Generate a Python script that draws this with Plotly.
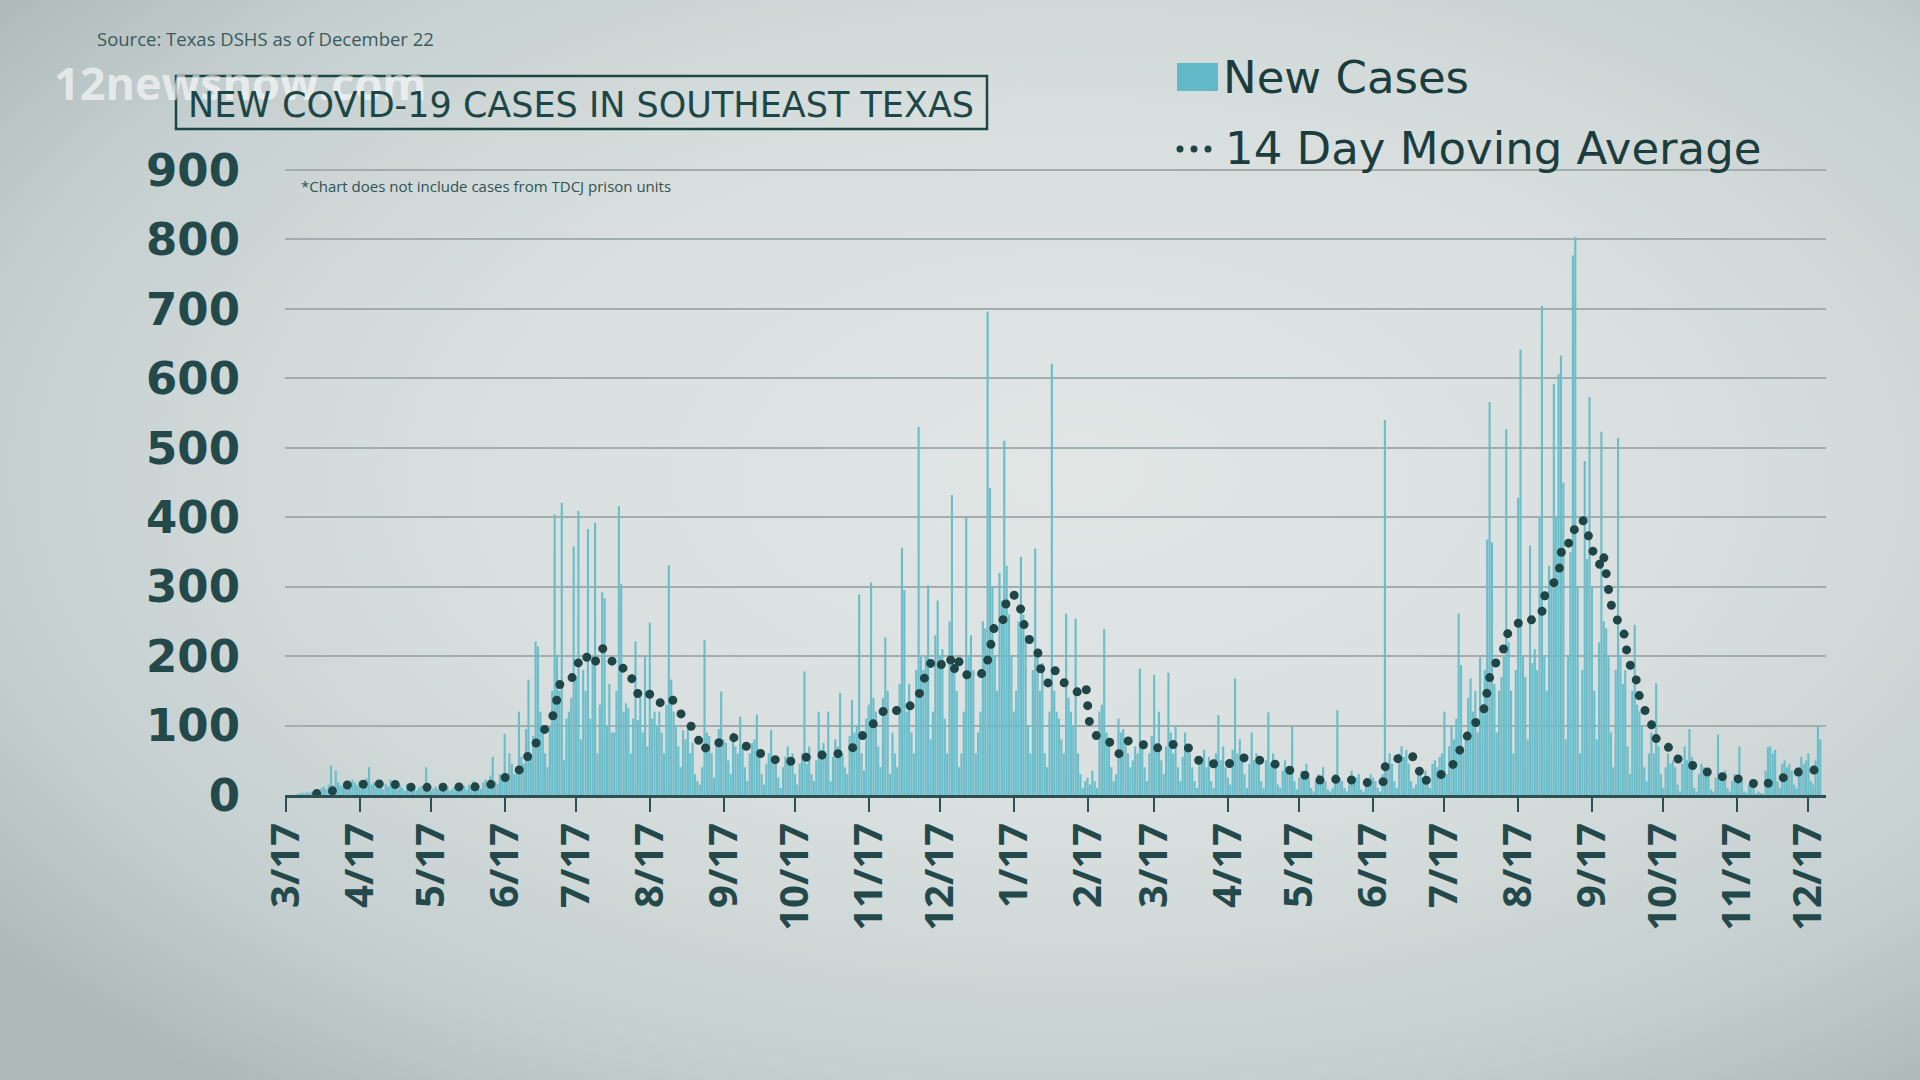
import base64
import pandas as pd
import plotly.graph_objects as go

# ---------------- DATA ----------------
start_date = "2020-03-17"

mar20 = [0, 0, 0, 0, 0, 1, 2, 3, 2, 4, 3, 5, 4, 6, 8]
apr20 = [10, 12, 8, 15, 42, 14, 35, 18, 14, 12, 16, 18, 10, 22, 18, 14, 20, 9, 12, 24,
         40, 15, 18, 10, 14, 20, 8, 16, 12, 22]
may20 = [18, 12, 8, 14, 10, 6, 16, 12, 9, 14, 7, 11, 13, 8, 40, 10, 6, 9, 12, 8,
         14, 7, 10, 11, 6, 9, 12, 8, 10, 7, 13]
jun20 = [8, 15, 12, 20, 10, 14, 9, 18, 22, 15, 28, 55, 20, 16, 30, 25, 88, 30, 60, 45,
         30, 35, 120, 55, 45, 95, 166, 55, 85, 221]
jul20 = [214, 120, 95, 60, 40, 98, 150, 404, 202, 150, 421, 50, 110, 120, 140, 358, 170, 409, 80, 180,
         150, 383, 110, 200, 392, 60, 130, 292, 283, 100, 160]
aug20 = [90, 90, 150, 416, 304, 120, 132, 125, 60, 110, 221, 108, 140, 90, 201, 70, 248, 110, 120, 100,
         120, 90, 60, 130, 331, 166, 120, 100, 70, 40, 93]
sep20 = [80, 95, 60, 75, 30, 20, 15, 40, 223, 90, 85, 60, 25, 70, 95, 149, 80, 75, 50, 30,
         90, 70, 60, 113, 70, 40, 20, 60, 75, 80]
oct20 = [116, 60, 30, 15, 45, 60, 94, 55, 50, 25, 10, 40, 55, 70, 50, 60, 30, 15, 45, 60,
         178, 45, 70, 30, 20, 50, 120, 65, 75, 60, 120]
nov20 = [20, 55, 80, 70, 147, 60, 40, 30, 85, 137, 90, 100, 289, 60, 35, 110, 130, 306, 140, 120,
         70, 40, 140, 227, 150, 30, 90, 60, 40, 160]
dec20 = [356, 295, 120, 160, 90, 60, 180, 530, 200, 180, 200, 302, 80, 120, 230, 280, 200, 210, 110, 60,
         250, 432, 180, 150, 40, 60, 120, 401, 200, 230, 180]
jan21 = [60, 90, 120, 250, 240, 696, 442, 300, 200, 150, 320, 280, 510, 330, 260, 200, 120, 150, 250, 343,
         260, 230, 100, 60, 180, 355, 200, 150, 190, 60, 40]
feb21 = [120, 621, 150, 120, 110, 80, 60, 261, 140, 120, 100, 254, 60, 30, 10, 20, 25, 15, 35, 20,
         10, 120, 130, 239, 90, 70, 40, 20]
mar21 = [30, 110, 90, 95, 80, 60, 40, 50, 70, 60, 182, 75, 40, 20, 60, 85, 173, 65, 120, 50,
         30, 70, 176, 90, 60, 100, 40, 20, 55, 90, 70]
apr21 = [60, 40, 20, 10, 45, 50, 65, 40, 55, 20, 10, 60, 115, 50, 70, 40, 25, 15, 65, 168,
         60, 80, 55, 30, 10, 45, 90, 50, 60, 45]
may21 = [20, 10, 50, 119, 45, 60, 40, 15, 10, 35, 50, 40, 30, 99, 20, 8, 25, 35, 30, 45,
         25, 10, 5, 20, 30, 25, 40, 20, 8, 5, 10]
jun21 = [30, 122, 25, 20, 10, 5, 15, 35, 20, 25, 30, 8, 5, 15, 20, 30, 25, 20, 10, 5,
         30, 540, 40, 60, 45, 20, 10, 60, 70, 55]
jul21 = [65, 45, 20, 10, 15, 30, 40, 25, 35, 15, 10, 45, 50, 40, 55, 60, 120, 30, 70, 100,
         80, 110, 261, 187, 60, 90, 140, 168, 120, 150, 90]
aug21 = [198, 130, 180, 368, 566, 364, 160, 90, 150, 170, 200, 527, 220, 150, 60, 180, 428, 641, 200, 170,
         80, 359, 190, 210, 180, 400, 704, 200, 150, 330, 300]
sep21 = [592, 400, 606, 633, 450, 80, 200, 350, 777, 804, 300, 60, 180, 481, 340, 573, 300, 150, 80, 220,
         523, 250, 240, 200, 90, 40, 180, 514, 200, 160]
oct21 = [180, 70, 30, 150, 245, 130, 120, 100, 40, 20, 60, 90, 60, 161, 70, 30, 10, 40, 60, 45,
         50, 40, 15, 5, 45, 70, 50, 95, 55, 10, 5]
nov21 = [30, 45, 40, 35, 30, 8, 5, 25, 87, 30, 20, 35, 10, 5, 20, 30, 25, 70, 20, 5,
         3, 15, 20, 10, 2, 5, 3, 2, 35, 69]
dec21 = [70, 60, 65, 20, 10, 45, 50, 40, 45, 35, 15, 10, 40, 55, 45, 50, 60, 20, 15, 50,
         100, 80]

new_cases = (mar20 + apr20 + may20 + jun20 + jul20 + aug20 + sep20 + oct20 + nov20 + dec20 +
             jan21 + feb21 + mar21 + apr21 + may21 + jun21 + jul21 + aug21 + sep21 + oct21 +
             nov21 + dec21)

# 14-day moving average (days after 2020-03-17, value)
ma_day = [13, 19.7, 26.3, 32.9, 39.6, 46.4, 53.1, 60.1, 67.1, 73.7, 80.4, 87.3, 93, 98.6, 102.1,
          105.5, 109.1, 112.2, 113.9, 115.3, 119.8, 122, 125.4, 129, 130.4, 132.8, 135.9, 138.4,
          143.6, 145.7, 148.1, 152.2, 154.5, 157.6, 162, 165, 169.5, 172.8, 175.3, 178.4, 182.8,
          189, 193.6, 198.2, 204.3, 210.6, 216.3, 221.6, 227.8, 233.3, 239.4, 241.8, 245.7, 249.1,
          253.2, 255.1, 258.5, 262, 265.8, 267.8, 269.6, 271.7, 275, 279.1, 280.6, 282.5, 284,
          287.1, 289.5, 293.8, 295.5, 296.8, 298.2, 301.4, 302.8, 305, 308.1, 309.4, 311.1, 313.7,
          316.1, 317.4, 320.6, 323.4, 324.5, 329.5, 332.5, 334, 336.3, 337, 337.3, 339.9, 343.7,
          347, 350.1, 353.9, 358.7, 364, 369.9, 373.8, 379.1, 383.5, 387.1, 392.7, 398.3, 403.1,
          408.8, 414.3, 420.3, 425.9, 431.7, 437.6, 443.5, 449.6, 456.1, 461.7, 462.2, 467, 473.4,
          476.3, 477.3, 483, 488.3, 492.1, 494.3, 498, 501.4, 504.3, 505, 506.5, 509.7, 512.6,
          514, 518.4, 521.9, 525.4, 527.9, 528.6, 532.5, 535.2, 535.6, 537.3, 539.8, 541.7, 545,
          547.5, 548.9, 550.3, 552.6, 553.8, 554.7, 556.3, 556.8, 559.1, 562.1, 563.3, 564.2,
          567.3, 568.4, 570.8, 573.9, 574.7, 580.2, 583.1, 589.2, 595.1, 601.5, 607.1, 613.8,
          619.7, 625.3, 631.6, 637.3, 643.4]
ma_value = [2, 6, 15, 17, 16, 15, 11, 11, 11, 9, 12, 16, 25, 37, 58,
            76, 97, 113, 137, 161, 164, 185, 204, 186, 194, 212, 203, 182,
            183, 168, 145, 151, 133, 133, 141, 121, 104, 85, 63, 76, 75,
            83.5, 70, 62, 52, 47, 52, 57, 58, 60, 70, 83.5, 96, 114,
            127, 124, 119, 127, 140, 163, 176, 195, 186, 200, 177, 198, 179,
            171, 170, 177, 201, 225, 250, 251, 277, 291, 282, 258, 234, 216,
            205, 180, 160, 179, 167, 157, 148.5, 149, 158, 133, 110, 88, 76,
            76, 59, 78, 76, 65, 72, 73, 69, 50.5, 44, 46, 45, 54,
            50.5, 47, 37, 32.5, 23, 20, 24, 19, 17, 19.4, 44, 52, 57,
            38, 19, 25, 34, 50.5, 73, 92, 109, 128, 152, 177, 197, 215,
            239, 248, 245, 260, 260, 284, 303, 318, 342, 365, 362, 383, 398,
            376, 360, 336, 331.5, 347, 323, 300, 277, 255, 240, 216, 193,
            173, 148, 125, 106, 83, 75.5, 55, 46, 34, 27, 25.5, 21,
            12.5, 20, 30, 35, 36]

tick_dates = ["2020-03-17", "2020-04-17", "2020-05-17", "2020-06-17", "2020-07-17", "2020-08-17",
              "2020-09-17", "2020-10-17", "2020-11-17", "2020-12-17", "2021-01-17", "2021-02-17",
              "2021-03-17", "2021-04-17", "2021-05-17", "2021-06-17", "2021-07-17", "2021-08-17",
              "2021-09-17", "2021-10-17", "2021-11-17", "2021-12-17"]
tick_labels = ["3/17", "4/17", "5/17", "6/17", "7/17", "8/17", "9/17", "10/17", "11/17", "12/17",
               "1/17", "2/17", "3/17", "4/17", "5/17", "6/17", "7/17", "8/17", "9/17", "10/17",
               "11/17", "12/17"]
y_ticks = [0, 100, 200, 300, 400, 500, 600, 700, 800, 900]

# ---------------- FIGURE ----------------
W, H = 1920, 1080
start = pd.Timestamp(start_date)
dates = pd.date_range(start, periods=len(new_cases), freq="D")
ma_dates = [start + pd.Timedelta(days=d) for d in ma_day]

BAR = "#6cbdca"
DARK = "#1f4547"
TEXT = "#24494b"

Y_TOP = 906  # a little head-room so the 900 grid line is drawn
PX_PER_UNIT = (795 - 170) / 900.0


def px(x):
    return x / W


def py(y):
    return 1 - y / H


# soft vignette background (studio-graphic look)
bg_svg = (
    '<svg xmlns="http://www.w3.org/2000/svg" width="1920" height="1080" viewBox="0 0 1920 1080" '
    'preserveAspectRatio="none"><defs><radialGradient id="g" cx="0.56" cy="0.44" r="0.72">'
    '<stop offset="0" stop-color="#e1e6e5"/><stop offset="0.45" stop-color="#d9dfdf"/>'
    '<stop offset="0.78" stop-color="#c6d0d0"/><stop offset="1" stop-color="#adb9b9"/>'
    '</radialGradient></defs><rect width="1920" height="1080" fill="url(#g)"/></svg>'
)
bg_src = "data:image/svg+xml;base64," + base64.b64encode(bg_svg.encode()).decode()

fig = go.Figure()
fig.add_trace(go.Bar(x=dates, y=new_cases, marker=dict(color=BAR, line=dict(width=0)),
                     name="New Cases", showlegend=False))
fig.add_trace(go.Scatter(x=ma_dates, y=ma_value, mode="lines",
                         line=dict(color=DARK, width=9, dash="dot"),
                         name="14 Day Moving Average", showlegend=False))

fig.update_layout(
    width=W, height=H,
    autosize=False,
    margin=dict(l=0, r=0, t=0, b=0, pad=0),
    paper_bgcolor="#d6dddd",
    plot_bgcolor="rgba(0,0,0,0)",
    bargap=0.1,
    showlegend=False,
    font=dict(family="Open Sans", color=TEXT),
    images=[dict(source=bg_src, xref="paper", yref="paper", x=0, y=1, sizex=1, sizey=1,
                 xanchor="left", yanchor="top", sizing="stretch", layer="below")],
    xaxis=dict(
        domain=[px(285), px(1826)],
        type="date",
        automargin=False,
        range=[start - pd.Timedelta(hours=8), start + pd.Timedelta(days=647.4)],
        tickvals=tick_dates, ticktext=tick_labels,
        tickangle=-90,
        tickfont=dict(family="Open Sans", size=40, color=TEXT, weight=700),
        ticks="outside", ticklen=14, tickwidth=2, tickcolor="#2d5052",
        showline=True, linecolor="#2d5052", linewidth=2.5,
        showgrid=False, zeroline=False,
        ticklabelstandoff=-5,
    ),
    yaxis=dict(
        domain=[py(795), py(170 - (Y_TOP - 900) * PX_PER_UNIT)],
        range=[0, Y_TOP],
        automargin=False,
        tickvals=y_ticks,
        tickfont=dict(family="DejaVu Sans", size=45, color=TEXT, weight=700),
        ticks="", showline=False,
        showgrid=True, gridcolor="#a4adad", gridwidth=1.5,
        zeroline=False,
        ticklabelstandoff=44,
    ),
)

shapes = [
    # title box
    dict(type="rect", xref="paper", yref="paper", x0=px(176), x1=px(987), y0=py(129), y1=py(76),
         line=dict(color="#1d4746", width=2.5), fillcolor="rgba(0,0,0,0)"),
    # legend swatch
    dict(type="rect", xref="paper", yref="paper", x0=px(1177), x1=px(1218), y0=py(91), y1=py(63),
         line=dict(width=0), fillcolor="#62b8c6"),
]
for cx in (1180, 1194, 1208):
    shapes.append(dict(type="circle", xref="paper", yref="paper",
                       x0=px(cx - 3.5), x1=px(cx + 3.5), y0=py(152.5), y1=py(145.5),
                       line=dict(width=0), fillcolor=DARK))
fig.update_layout(shapes=shapes)

annotations = [
    dict(text="Source: Texas DSHS as of December 22", x=px(96), y=py(39), xanchor="left", yanchor="middle",
         font=dict(size=18.5, color="#3a5b5c")),
    dict(text="12newsnow.com", x=px(53), y=py(82), xanchor="left", yanchor="middle",
         font=dict(size=45, color="rgba(255,255,255,0.6)", weight=700)),
    dict(text="NEW COVID-19 CASES IN SOUTHEAST TEXAS", x=px(581), y=py(105), xanchor="center", yanchor="middle",
         font=dict(family="DejaVu Sans", size=35, color="#1d4746")),
    dict(text="*Chart does not include cases from TDCJ prison units", x=px(300), y=py(186),
         xanchor="left", yanchor="middle", font=dict(size=15, color="#2f5253")),
    dict(text="New Cases", x=px(1222), y=py(78), xanchor="left", yanchor="middle",
         font=dict(family="DejaVu Sans", size=45, color="#1c3d3e")),
    dict(text="14 Day Moving Average", x=px(1224), y=py(148), xanchor="left", yanchor="middle",
         font=dict(family="DejaVu Sans", size=45, color="#1c3d3e")),
]
for a in annotations:
    a.update(xref="paper", yref="paper", showarrow=False, borderpad=0)
fig.update_layout(annotations=annotations)

post = """
document.body.style.margin = '0';
var gd = document.getElementById('{plot_id}');
function roundDots() {
  gd.querySelectorAll('.scatterlayer path.js-line').forEach(function(p) {
    p.style.strokeLinecap = 'round';
    p.style.strokeDasharray = '0px,16px';
  });
}
roundDots();
if (gd.on) { gd.on('plotly_afterplot', roundDots); }
"""

fig.write_html("out.html", post_script=post,
               config={"displayModeBar": False, "responsive": False})
